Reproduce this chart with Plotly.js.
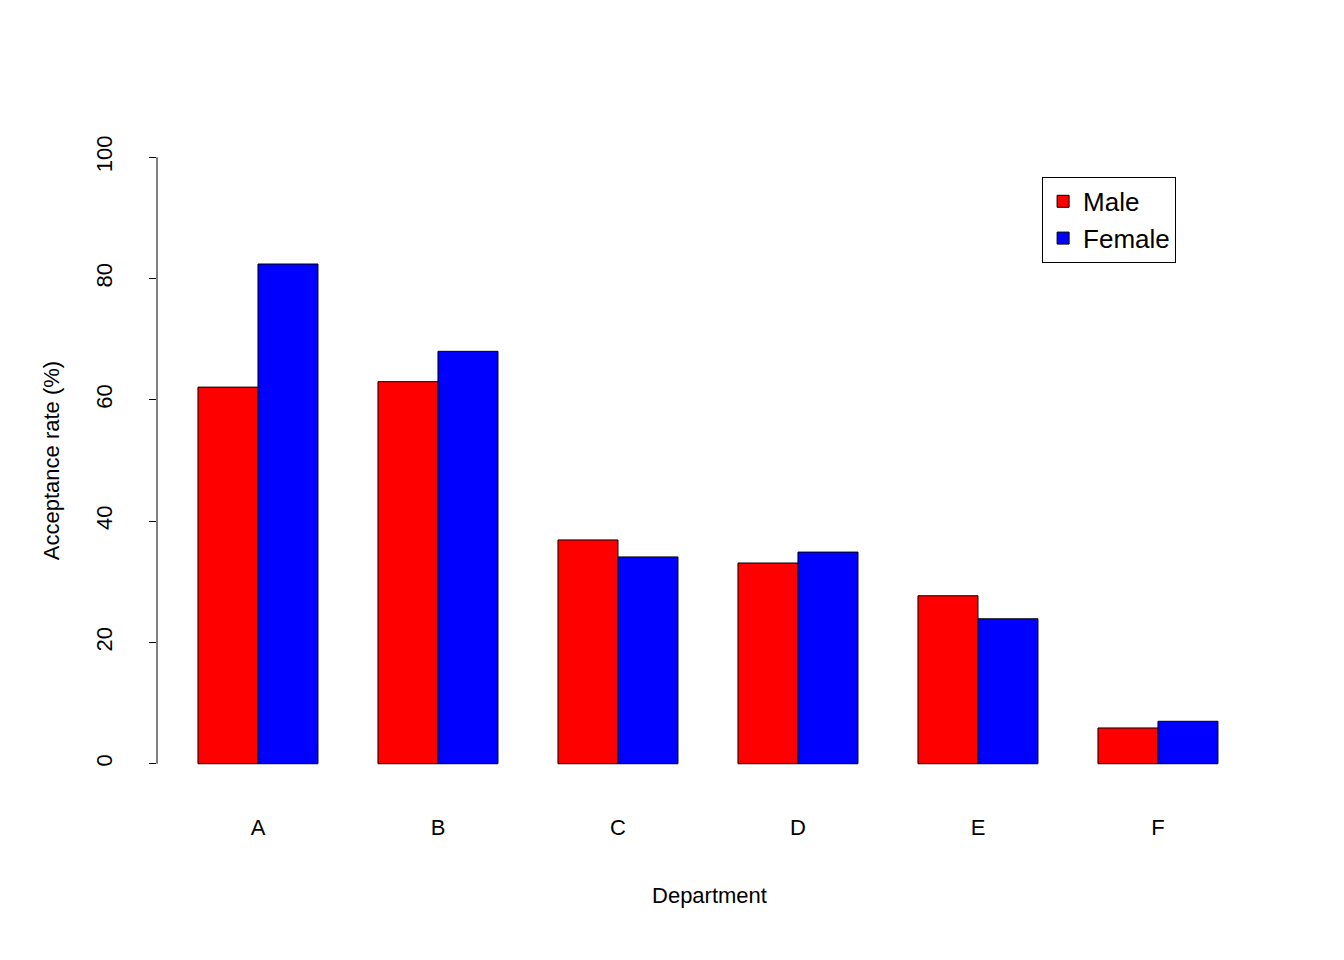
<!DOCTYPE html>
<html>
<head>
<meta charset="utf-8">
<script src="https://cdn.plot.ly/plotly-3.0.1.min.js"></script>
<style>body{margin:0;background:#fff}</style>
</head>
<body>
<div id="plot" style="width:1344px;height:960px"></div>
<script>
// acceptance rate by department (%)
const departments = ['A', 'B', 'C', 'D', 'E', 'F'];
const male = [62.1, 63.0, 36.9, 33.1, 27.7, 5.9];
const female = [82.4, 68.0, 34.1, 34.9, 23.9, 7.0];
const yTicks = [0, 20, 40, 60, 80, 100];

const font = {family: 'Liberation Sans, Arial, sans-serif', color: '#000'};

let traces = [
  {x: departments, y: male, name: 'Male', type: 'bar',
   marker: {color: '#ff0000', line: {color: '#000', width: 1}}},
  {x: departments, y: female, name: 'Female', type: 'bar',
   marker: {color: '#0000ff', line: {color: '#000', width: 1}}}
];

let layout = {
  width: 1344, height: 960,
  margin: {l: 157, r: 82, t: 133, b: 172},
  paper_bgcolor: '#fff', plot_bgcolor: '#fff',
  font: Object.assign({size: 22}, font),
  barmode: 'group', bargap: 1/3, bargroupgap: 0,
  showlegend: true,
  legend: {x: 0.801, y: 0.933, xanchor: 'left', yanchor: 'top',
           bordercolor: '#000', borderwidth: 1, bgcolor: '#fff',
           font: Object.assign({size: 26}, font), tracegroupgap: 0},
  xaxis: {type: 'category', range: [-0.561, 5.578], showline: false, showgrid: false,
          zeroline: false, ticks: 'outside', ticklen: 20, tickcolor: 'rgba(0,0,0,0)',
          ticklabelstandoff: 0,
          tickfont: Object.assign({size: 22}, font),
          title: {text: 'Department', standoff: 48, font: Object.assign({size: 22}, font)}},
  yaxis: {range: [-4, 104], tickvals: yTicks, ticktext: yTicks.map(String),
          showline: false, showgrid: false, zeroline: false,
          ticks: 'outside', ticklen: 7, tickcolor: '#000', tickwidth: 1,
          tickangle: -90, ticklabelstandoff: 28,
          tickfont: Object.assign({size: 22}, font),
          title: {text: 'Acceptance rate (%)', standoff: 26, font: Object.assign({size: 22}, font)}},
  shapes: [{type: 'line', xref: 'paper', yref: 'y', x0: 0, x1: 0, y0: 0, y1: 100,
            line: {color: '#000', width: 1}}]
};

Plotly.newPlot('plot', traces, layout, {displayModeBar: false});
</script>
</body>
</html>
